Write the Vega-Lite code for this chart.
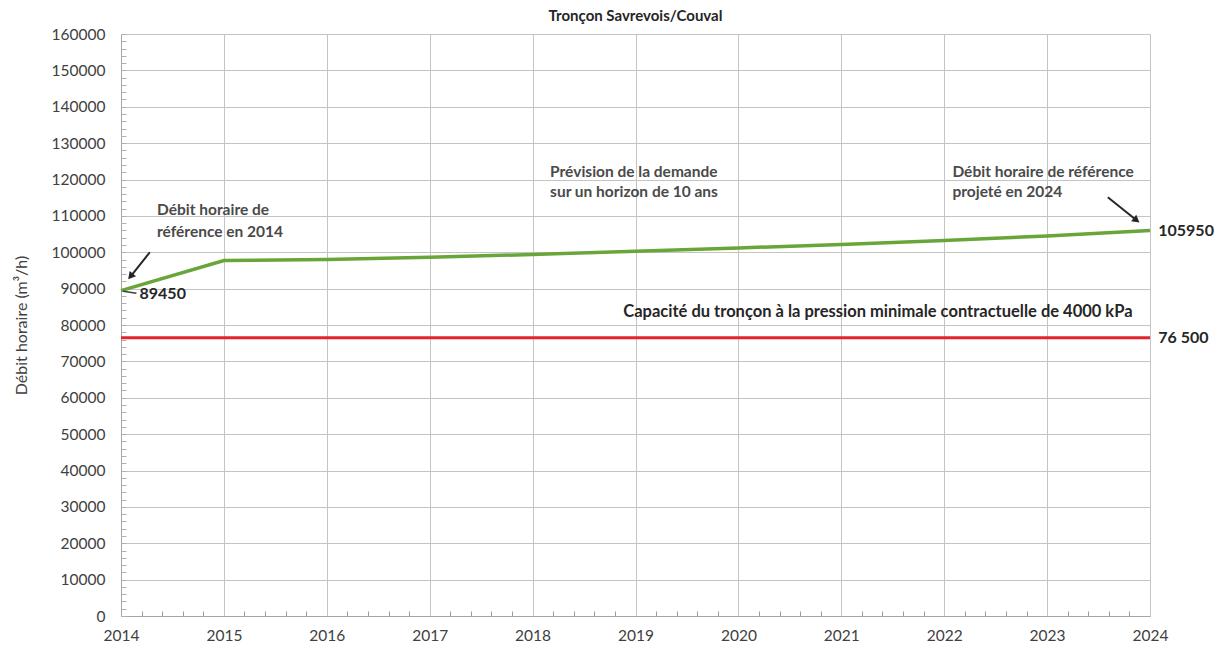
{
  "$schema": "https://vega.github.io/schema/vega-lite/v6.json",
  "width": 1029,
  "height": 582,
  "autosize": {"type": "none"},
  "padding": {"left": 121, "top": 34, "right": 76, "bottom": 34},
  "background": "white",
  "config": {
    "view": {"stroke": null},
    "font": "Lato",
    "axis": {"labelFont": "Lato", "titleFont": "Lato", "labelColor": "#404040", "titleColor": "#404040", "gridColor": "#c4c4c4", "domainColor": "#a6a6a6", "tickColor": "#a6a6a6", "labelFontSize": 15.5}
  },
  "title": {"text": "Tronçon Savrevois/Couval", "fontSize": 15, "font": "Lato", "fontWeight": "bold", "color": "#262626", "offset": 3, "anchor": "middle"},
  "resolve": {"axis": {"x": "independent", "y": "independent"}},
  "datasets": {
    "demand": [
      {"year": 2014, "value": 89450},
      {"year": 2015, "value": 97700},
      {"year": 2016, "value": 98000},
      {"year": 2017, "value": 98600},
      {"year": 2018, "value": 99400},
      {"year": 2019, "value": 100300},
      {"year": 2020, "value": 101200},
      {"year": 2021, "value": 102100},
      {"year": 2022, "value": 103200},
      {"year": 2023, "value": 104500},
      {"year": 2024, "value": 105950}
    ],
    "capacity": [
      {"year": 2014, "value": 76500},
      {"year": 2024, "value": 76500}
    ],
    "arrows": [
      {"x1": 2014.28, "y1": 100000, "x2": 2014.1, "y2": 93600, "angle": 220},
      {"x1": 2023.59, "y1": 115100, "x2": 2023.86, "y2": 109000, "angle": 128}
    ],
    "dash": [
      {"x1": 2014.02, "y1": 89300, "x2": 2014.15, "y2": 88700}
    ],
    "notes": [
      {"x": 2014.35, "y": 111500, "text": "Débit horaire de"},
      {"x": 2014.35, "y": 105500, "text": "référence en 2014"},
      {"x": 2018.17, "y": 122000, "text": "Prévision de la demande"},
      {"x": 2018.17, "y": 116500, "text": "sur un horizon de 10 ans"},
      {"x": 2022.08, "y": 122000, "text": "Débit horaire de référence"},
      {"x": 2022.08, "y": 116500, "text": "projeté en 2024"}
    ],
    "bignotes": [
      {"x": 2014.18, "y": 88500, "text": "89450"},
      {"x": 2024.08, "y": 105950, "text": "105950"},
      {"x": 2024.08, "y": 76500, "text": "76 500"}
    ],
    "capnote": [
      {"x": 2023.83, "y": 83600, "text": "Capacité  du tronçon à la pression minimale contractuelle  de 4000 kPa"}
    ]
  },
  "layer": [
    {
      "data": {"name": "demand"},
      "mark": {"type": "line", "color": "#69a63a", "strokeWidth": 3.5},
      "encoding": {
        "x": {"field": "year", "type": "quantitative", "scale": {"domain": [2014, 2024], "nice": false}, "axis": {"orient": "bottom", "title": null, "values": [2014, 2015, 2016, 2017, 2018, 2019, 2020, 2021, 2022, 2023, 2024], "format": "d", "labelPadding": 12, "tickSize": 0, "grid": true, "labelOverlap": false, "labelFlush": false}},
        "y": {"field": "value", "type": "quantitative", "scale": {"domain": [0, 160000], "nice": false}, "axis": {"orient": "left", "title": "Débit horaire (m³/h)", "titleFontSize": 16, "titleFontWeight": "normal", "titlePadding": 22, "values": [0, 10000, 20000, 30000, 40000, 50000, 60000, 70000, 80000, 90000, 100000, 110000, 120000, 130000, 140000, 150000, 160000], "format": "d", "tickSize": 0, "labelPadding": 16, "grid": true, "labelOverlap": false, "labelFlush": false}}
      }
    },
    {
      "data": {"name": "capacity"},
      "mark": {"type": "line", "color": "#e5232b", "strokeWidth": 3},
      "encoding": {
        "x": {"field": "year", "type": "quantitative", "axis": {"orient": "bottom", "title": null, "labels": false, "grid": false, "domain": false, "tickSize": -5, "tickColor": "#9a9a9a", "values": [2014.2, 2014.4, 2014.6, 2014.8, 2015.2, 2015.4, 2015.6, 2015.8, 2016.2, 2016.4, 2016.6, 2016.8, 2017.2, 2017.4, 2017.6, 2017.8, 2018.2, 2018.4, 2018.6, 2018.8, 2019.2, 2019.4, 2019.6, 2019.8, 2020.2, 2020.4, 2020.6, 2020.8, 2021.2, 2021.4, 2021.6, 2021.8, 2022.2, 2022.4, 2022.6, 2022.8, 2023.2, 2023.4, 2023.6, 2023.8]}},
        "y": {"field": "value", "type": "quantitative", "axis": {"orient": "left", "title": null, "labels": false, "grid": false, "domain": false, "tickSize": -5, "tickColor": "#b0b0b0", "tickCount": 80}}
      }
    },
    {
      "data": {"name": "arrows"},
      "mark": {"type": "rule", "color": "#262626", "strokeWidth": 2},
      "encoding": {
        "x": {"field": "x1", "type": "quantitative", "axis": null},
        "y": {"field": "y1", "type": "quantitative", "axis": null},
        "x2": {"field": "x2"},
        "y2": {"field": "y2"}
      }
    },
    {
      "data": {"name": "arrows"},
      "mark": {"type": "point", "shape": "triangle", "filled": true, "color": "#262626", "size": 70, "opacity": 1},
      "encoding": {
        "x": {"field": "x2", "type": "quantitative", "axis": null},
        "y": {"field": "y2", "type": "quantitative", "axis": null},
        "angle": {"field": "angle", "type": "quantitative", "scale": null}
      }
    },
    {
      "data": {"name": "dash"},
      "mark": {"type": "rule", "color": "#404040", "strokeWidth": 1.5},
      "encoding": {
        "x": {"field": "x1", "type": "quantitative", "axis": null},
        "y": {"field": "y1", "type": "quantitative", "axis": null},
        "x2": {"field": "x2"},
        "y2": {"field": "y2"}
      }
    },
    {
      "data": {"name": "notes"},
      "mark": {"type": "text", "align": "left", "baseline": "middle", "fontSize": 15.5, "fontWeight": "bold", "color": "#4a4a4a", "font": "Lato"},
      "encoding": {
        "x": {"field": "x", "type": "quantitative", "axis": null},
        "y": {"field": "y", "type": "quantitative", "axis": null},
        "text": {"field": "text"}
      }
    },
    {
      "data": {"name": "bignotes"},
      "mark": {"type": "text", "align": "left", "baseline": "middle", "fontSize": 16, "fontWeight": "bold", "color": "#262626", "font": "Lato"},
      "encoding": {
        "x": {"field": "x", "type": "quantitative", "axis": null},
        "y": {"field": "y", "type": "quantitative", "axis": null},
        "text": {"field": "text"}
      }
    },
    {
      "data": {"name": "capnote"},
      "mark": {"type": "text", "align": "right", "baseline": "middle", "fontSize": 16.5, "fontWeight": "bold", "color": "#262626", "font": "Lato"},
      "encoding": {
        "x": {"field": "x", "type": "quantitative", "axis": null},
        "y": {"field": "y", "type": "quantitative", "axis": null},
        "text": {"field": "text"}
      }
    }
  ]
}
